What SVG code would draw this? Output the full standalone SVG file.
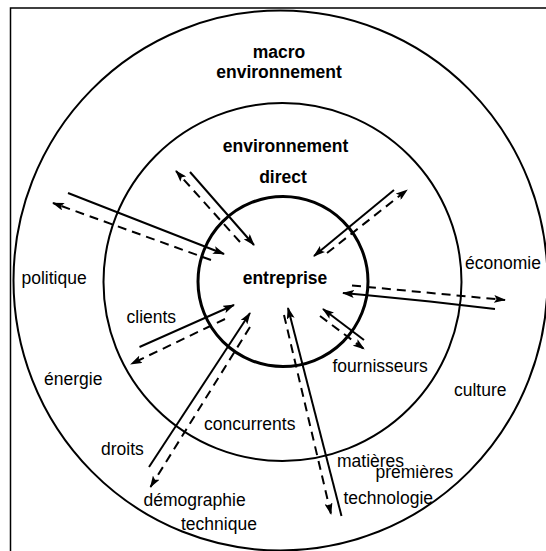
<svg xmlns="http://www.w3.org/2000/svg" width="546" height="551" viewBox="0 0 546 551">
<style>
.ring{fill:none;stroke:#000;stroke-width:2}
.inner{fill:none;stroke:#000;stroke-width:3}
.sol{fill:none;stroke:#000;stroke-width:2;marker-end:url(#ah)}
.dash{fill:none;stroke:#000;stroke-width:2;stroke-dasharray:9 6;marker-end:url(#ah)}
.lbl{font-family:"Liberation Sans",Arial,sans-serif;font-size:17.5px;fill:#000}
.bold{font-family:"Liberation Sans",Arial,sans-serif;font-size:17.5px;font-weight:bold;fill:#000;text-anchor:middle}
</style>
<defs>
<marker id="ah" viewBox="0 0 12 8" refX="11" refY="4" markerWidth="12" markerHeight="8" orient="auto" markerUnits="userSpaceOnUse">
<path d="M0,0 L12,4 L0,8 L2.5,4 z" fill="#000" stroke="none"/>
</marker>
</defs>
<rect width="546" height="551" fill="#fff"/>
<path d="M10.5,551 V8 H546" fill="none" stroke="#000" stroke-width="1.5"/>
<g id="macro-environnement">
<ellipse class="ring" cx="280.5" cy="280.5" rx="267" ry="270"/>
<text class="bold" x="279" y="58">macro</text>
<text class="bold" x="279" y="78">environnement</text>
</g>
<g id="environnement-direct">
<circle class="ring" cx="282.5" cy="282" r="179"/>
<text class="bold" x="285.5" y="152">environnement</text>
<text class="bold" x="283" y="183">direct</text>
</g>
<g id="entreprise">
<circle class="inner" cx="283" cy="281.5" r="85"/>
<text class="bold" x="285" y="284">entreprise</text>
</g>
<g id="labels">
<text class="lbl" x="21.5" y="284">politique</text>
<text class="lbl" x="465" y="269">économie</text>
<text class="lbl" x="126.5" y="322.5">clients</text>
<text class="lbl" x="44" y="385">énergie</text>
<text class="lbl" x="332.5" y="371.5">fournisseurs</text>
<text class="lbl" x="454" y="396">culture</text>
<text class="lbl" x="204" y="430">concurrents</text>
<text class="lbl" x="101" y="455">droits</text>
<text class="lbl" x="337" y="466.5">matières</text>
<text class="lbl" x="375.5" y="478">premières</text>
<text class="lbl" x="343.5" y="504">technologie</text>
<text class="lbl" x="143.5" y="506">démographie</text>
<text class="lbl" x="181" y="530">technique</text>
</g>
<g id="connectors">
<path class="sol" d="M68,193 L224,254"/>
<path class="dash" d="M211,260 L53,203"/>
<path class="sol" d="M190,172 L254,245"/>
<path class="dash" d="M240,242 L176,171"/>
<path class="sol" d="M394,190 L314,256"/>
<path class="dash" d="M327,253 L407,190"/>
<path class="sol" d="M495,309 L430,301.5 L365,295 L343,293"/>
<path class="dash" d="M352,285.5 L505,300"/>
<path class="sol" d="M364,340 L323,309"/>
<path class="dash" d="M320,316 L364,349"/>
<path class="sol" d="M341.5,516 L288,308"/>
<path class="dash" d="M284,315 L331,514"/>
<path class="sol" d="M149,467 L250,313"/>
<path class="dash" d="M250,327 L150.5,487"/>
<path class="sol" d="M139.5,347 L234,305"/>
<path class="dash" d="M225,319 L131,364"/>
</g>
</svg>
